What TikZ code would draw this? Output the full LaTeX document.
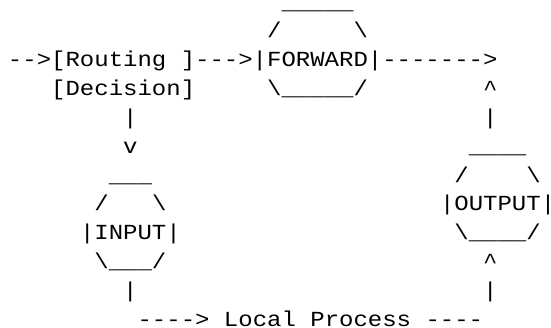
\documentclass[tikz,border=0pt]{standalone}
\usepackage{fontspec}
\setmonofont{Liberation Mono}
\definecolor{c000000}{RGB}{0,0,0}
\def \globalscale {1.000000}

\begin{document}
\begin{tikzpicture}[y=1pt, x=1pt, yscale=\globalscale,xscale=\globalscale, every node/.append style={scale=\globalscale}, inner sep=0pt, outer sep=0pt, ascii/.style={text=c000000,anchor=base west,xscale=1.116,font=\ttfamily\fontsize{21.5}{26}\selectfont}]
  \path[fill=white] (0.0, 0.0) rectangle (551.0, 327.0);
  \useasboundingbox (0.0, 0.0) rectangle (551.0, 327.0);



  % FORWARD box and the top line
  \node[ascii] (fwdtop) at (281.6, 317.8){\_\_\_\_\_};
  \node[ascii] (fwdnw) at (267.2, 289.0){/};
  \node[ascii] (fwdne) at (353.6, 289.0){\textbackslash};
  \node[ascii] (mainline) at (8.0, 260.2){-->[Routing ]--->|FORWARD|------->};
  \node[ascii] (decision) at (51.2, 231.4){[Decision]};
  \node[ascii] (fwdbottom) at (267.2, 231.4){\textbackslash\_\_\_\_\_/};
  \node[ascii] (outup) at (483.2, 231.4){\textasciicircum};



  % down to INPUT, up from OUTPUT
  \node[ascii] (routebar) at (123.2, 202.6){|};
  \node[ascii] (outbar) at (483.2, 202.6){|};
  \node[ascii] (routev) at (123.2, 173.8){v};
  \node[ascii] (outtop) at (468.8, 173.8){\_\_\_\_};
  \node[ascii] (intop) at (108.8, 145.0){\_\_\_};
  \node[ascii] (outnw) at (454.4, 145.0){/};
  \node[ascii] (outne) at (526.4, 145.0){\textbackslash};
  \node[ascii] (innw) at (94.4, 116.2){/};
  \node[ascii] (inne) at (152.0, 116.2){\textbackslash};
  \node[ascii] (output) at (440.0, 116.2){|OUTPUT|};
  \node[ascii] (input) at (80.0, 87.4){|INPUT|};
  \node[ascii] (outbottom) at (454.4, 87.4){\textbackslash\_\_\_\_/};
  \node[ascii] (inbottom) at (94.4, 58.6){\textbackslash\_\_\_/};
  \node[ascii] (localup) at (483.2, 58.6){\textasciicircum};



  % Local Process line
  \node[ascii] (inbar) at (123.2, 29.8){|};
  \node[ascii] (localbar) at (483.2, 29.8){|};
  \node[ascii] (local) at (137.6, 1.0){----> Local Process ----};



\end{tikzpicture}
\end{document}
